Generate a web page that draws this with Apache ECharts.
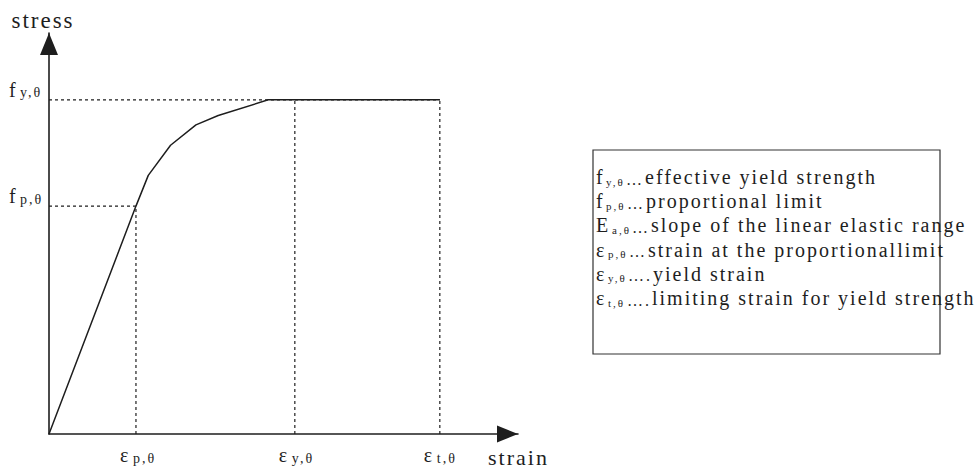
<!DOCTYPE html>
<html><head><meta charset="utf-8">
<script src="https://cdn.jsdelivr.net/npm/echarts@6/dist/echarts.min.js"></script>
<style>
html,body{margin:0;padding:0;background:#fff;}
#chart{width:975px;height:468px;}
#chart text{letter-spacing:2px;}
</style></head><body><div id="chart"></div>
<script>
// ---- data ----
const epsP = 0.2225, epsY = 0.629, epsT = 1.0;       // strain ticks
const fP = 0.682, fY = 1.0;                          // stress ticks
const strainTickValues = [epsP, epsY, epsT];
const strainTickMain = ['ε', 'ε', 'ε'];
const strainTickSub = ['p,θ', 'y,θ', 't,θ'];
const stressTickValues = [fP, fY];
const stressTickMain = ['f', 'f'];
const stressTickSub = ['p,θ', 'y,θ'];
const curveStrain = [0, 0.2225, 0.254, 0.311, 0.376, 0.433, 0.561, 1.0];
const curveStress = [0, 0.682, 0.774, 0.864, 0.925, 0.953, 1.0, 1.0];
const legendMain = ['f', 'f', 'E', 'ε', 'ε', 'ε'];
const legendSub = ['y,θ', 'p,θ', 'a,θ', 'p,θ', 'y,θ', 't,θ'];
const legendDots = ['…', '…', '…', '…', '….', '….'];
const legendText = ['effective yield strength', 'proportional limit', 'slope of the linear elastic range',
  'strain at the proportionallimit', 'yield strain', 'limiting strain for yield strength'];
const axisNames = ['strain', 'stress'];

// guide (dashed) lines built from the named values
const guides = [
  [[0, fY], [epsT, fY]],
  [[0, fP], [epsP, fP]],
  [[epsP, 0], [epsP, fP]],
  [[epsY, 0], [epsY, fY]],
  [[epsT, 0], [epsT, fY]]
];

const FONT = '"Liberation Serif", "Times New Roman", serif';
const INK = '#1e1e1e';
const LS = 2; // css letter-spacing

const mctx = document.createElement('canvas').getContext('2d');
function tw(text, size, extra) {
  mctx.font = size + 'px ' + FONT;
  return Math.ceil(mctx.measureText(text).width + LS * [...text].length + (extra || 0));
}

function tickFmt(keys, mains, subs) {
  return function (v) {
    const i = keys.findIndex(k => Math.abs(k - v) < 1e-6);
    return i < 0 ? '' : '{m|' + mains[i] + '}{s|' + subs[i] + '}';
  };
}
function tickRich(main) {
  return {
    m: { fontFamily: FONT, fontSize: 20, color: INK, verticalAlign: 'bottom', align: 'left', width: tw(main, 20, 2) },
    s: { fontFamily: FONT, fontSize: 14, color: INK, verticalAlign: 'bottom', align: 'left', width: tw('p,θ', 14, 1) }
  };
}

const chart = echarts.init(document.getElementById('chart'), null, { renderer: 'svg' });

const series = guides.map(g => ({
  type: 'line', data: g, symbol: 'none', silent: true, z: 2,
  lineStyle: { color: INK, width: 1.2, type: [3, 3] }
}));
series.push({
  type: 'line', symbol: 'none', silent: true, z: 5,
  data: curveStrain.map((x, i) => [x, curveStress[i]]),
  lineStyle: { color: INK, width: 1.5 }
});

const legendTop = 177, legendStep = 24.2;
const graphic = [{
  type: 'rect', z: 10,
  shape: { x: 593, y: 150, width: 347, height: 204 },
  style: { fill: 'none', stroke: '#333', lineWidth: 1.2 }
}];
legendText.forEach((t, i) => {
  graphic.push({
    type: 'text', z: 11, x: 596, y: legendTop + i * legendStep,
    style: {
      text: '{m|' + legendMain[i] + '}{s|' + legendSub[i] + '}{d|' + legendDots[i] + '}{t|' + t + '}',
      verticalAlign: 'middle', fill: INK, fontFamily: FONT, fontSize: 20,
      rich: {
        m: { fontFamily: FONT, fontSize: 20, fill: INK, verticalAlign: 'bottom', align: 'left', width: tw(legendMain[i], 20, 1) },
        s: { fontFamily: FONT, fontSize: 11, fill: INK, verticalAlign: 'bottom', align: 'left', width: tw(legendSub[i], 11, 1) },
        d: { fontFamily: FONT, fontSize: 16, fill: INK, verticalAlign: 'bottom', align: 'left', width: tw(legendDots[i], 16, 1) },
        t: { fontFamily: FONT, fontSize: 20, fill: INK, verticalAlign: 'bottom', align: 'left' }
      }
    }
  });
});

chart.setOption({
  animation: false,
  backgroundColor: '#fff',
  grid: { left: 49, right: 457, top: 33, bottom: 33 },
  xAxis: {
    type: 'value', min: 0, max: 1.2,
    name: axisNames[0], nameLocation: 'end', nameGap: -30,
    nameTextStyle: { fontFamily: FONT, fontSize: 22, color: INK, align: 'left', verticalAlign: 'top', padding: [12, 0, 0, 0] },
    axisLine: { show: true, symbol: ['none', 'triangle'], symbolSize: [17, 21], symbolOffset: [0, -10.5],
      lineStyle: { color: INK, width: 1.6 } },
    axisTick: { show: false }, splitLine: { show: false },
    axisLabel: { customValues: strainTickValues, formatter: tickFmt(strainTickValues, strainTickMain, strainTickSub),
      margin: 11, rich: tickRich(strainTickMain[0]), padding: [0, 0, 0, 6] }
  },
  yAxis: {
    type: 'value', min: 0, max: 1.2,
    name: axisNames[1], nameLocation: 'end', nameGap: 1,
    nameTextStyle: { fontFamily: FONT, fontSize: 23, color: INK, align: 'center', verticalAlign: 'bottom', padding: [0, 12, 0, 0] },
    axisLine: { show: true, symbol: ['none', 'triangle'], symbolSize: [18, 22], symbolOffset: [0, -11],
      lineStyle: { color: INK, width: 1.6 } },
    axisTick: { show: false }, splitLine: { show: false },
    axisLabel: { customValues: stressTickValues, formatter: tickFmt(stressTickValues, stressTickMain, stressTickSub),
      margin: 4, rich: tickRich(stressTickMain[0]), verticalAlign: 'bottom' }
  },
  series: series,
  graphic: graphic
});
</script></body></html>
